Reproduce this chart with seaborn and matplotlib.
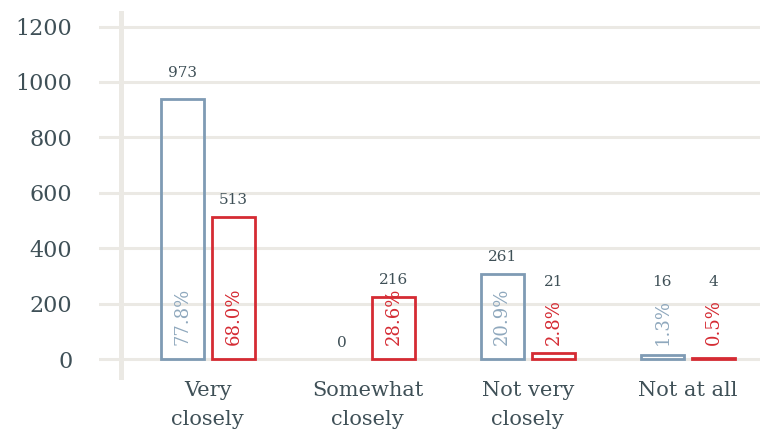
import numpy as np
import pandas as pd
import matplotlib
matplotlib.use("Agg")
import matplotlib.pyplot as plt
import seaborn as sns

# values
categories = ["Very\nclosely", "Somewhat\nclosely", "Not very\nclosely", "Not at all"]
groups = ["A", "B"]
bar_a = [938, np.nan, 308, 16]     # drawn heights (blue)
bar_b = [512, 226, 22, 6]          # drawn heights (red)
count_a = ["973", "0", "261", "16"]
count_b = ["513", "216", "21", "4"]
pct_a = ["77.8%", "", "20.9%", "1.3%"]
pct_b = ["68.0%", "28.6%", "2.8%", "0.5%"]
yticks = [0, 200, 400, 600, 800, 1000, 1200]

BLUE = "#7f9bb4"
BLUE_TXT = "#8fa8bd"
RED = "#d52b33"
GRID = "#ebe9e4"
INK = "#3f5057"

sns.set_style("white")
plt.rcParams["font.family"] = ["DejaVu Serif"]

df = pd.DataFrame({
    "cat": categories * 2,
    "grp": ["A"] * 4 + ["B"] * 4,
    "val": bar_a + bar_b,
}).dropna()

fig = plt.figure(figsize=(7.6, 4.32), dpi=100)
ax = fig.add_axes([0.130, 0.1204, 0.870, 0.8541])

sns.barplot(data=df, x="cat", y="val", hue="grp", order=categories,
            hue_order=groups, palette=[BLUE, RED], fill=False,
            width=0.64, gap=0.16, linewidth=2.0, legend=False, ax=ax)

ax.set_xlim(-0.68, 3.45)
ax.set_ylim(-75, 1256)
ax.set_yticks(yticks)
ax.set_yticklabels([str(t) for t in yticks])
ax.yaxis.grid(True, color=GRID, linewidth=2.2)
ax.set_axisbelow(True)
ax.axvline(-0.544, color=GRID, linewidth=3.6, zorder=0)
for s in ax.spines.values():
    s.set_visible(False)
ax.tick_params(axis="y", length=0, pad=19, labelsize=16, labelcolor=INK)
ax.tick_params(axis="x", length=0, pad=1, labelsize=15, labelcolor=INK)
for lbl in ax.get_xticklabels():
    lbl.set_linespacing(1.65)
ax.set_xlabel("")
ax.set_ylabel("")

# labels: percent inside (rotated), counts above
texts = {0: (count_a, pct_a, BLUE_TXT), 1: (count_b, pct_b, RED)}
for gi, cont in enumerate(ax.containers):
    counts, pcts, col = texts[gi]
    for bar in cont:
        h = bar.get_height()
        if np.isnan(h):
            continue
        xc = bar.get_x() + bar.get_width() / 2
        ci = int(round(xc))
        if pcts[ci]:
            ax.text(xc, 52, pcts[ci], rotation=90, ha="center", va="bottom",
                    color=col, fontsize=13)
            base = max(h, float(counts[ci]), 220)
        else:
            base = max(h, float(counts[ci]))
        ax.text(xc, base + 60, counts[ci], ha="center", va="center",
                color=INK, fontsize=11)

# the "0" label where no bar is drawn
for ci, v in enumerate(bar_a):
    if np.isnan(v):
        ax.text(ci - 0.16, 60, count_a[ci], ha="center", va="center",
                color=INK, fontsize=11)

fig.savefig("out.png", dpi=100)
